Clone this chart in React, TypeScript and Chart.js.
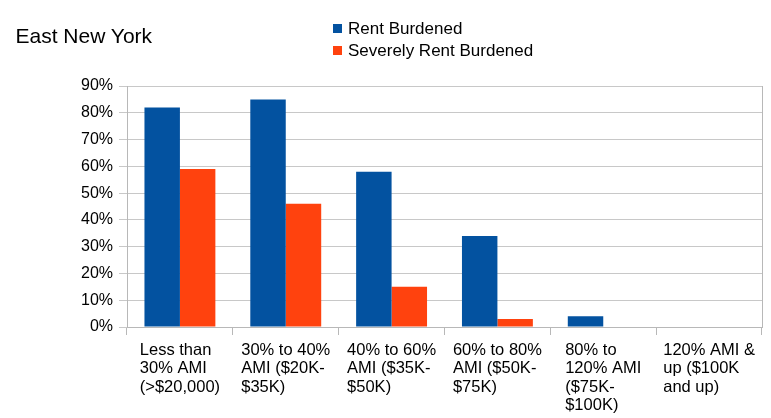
import React, { useEffect, useRef } from "react";
import { Chart, registerables } from "chart.js";

Chart.register(...registerables);

const FONT = "'Liberation Sans', Arial, Helvetica, sans-serif";

const chartTitle = "East New York";
const categories: string[][] = [
  ["Less than", "30% AMI", "(>$20,000)"],
  ["30% to 40%", "AMI ($20K-", "$35K)"],
  ["40% to 60%", "AMI ($35K-", "$50K)"],
  ["60% to 80%", "AMI ($50K-", "$75K)"],
  ["80% to", "120% AMI", "($75K-", "$100K)"],
  ["120% AMI &", "up ($100K", "and up)"],
];
const seriesNames = ["Rent Burdened", "Severely Rent Burdened"];
const rentBurdened = [82, 85, 58, 34, 4, 0];
const severelyRentBurdened = [59, 46, 15, 3, 0, 0];
const seriesColors = ["#0352a0", "#ff420e"];
const yMin = 0;
const yMax = 90;
const yStep = 10;

const xLabelPlugin = {
  id: "xLabelBlocks",
  afterDraw(chart: any) {
    const xs = chart.scales.x;
    const ctx = chart.ctx as CanvasRenderingContext2D;
    ctx.save();
    ctx.font = `16.5px ${FONT}`;
    ctx.fillStyle = "#000000";
    ctx.textAlign = "left";
    ctx.textBaseline = "alphabetic";
    const top = chart.chartArea.bottom;
    categories.forEach((lines, i) => {
      const cx = xs.getPixelForValue(i);
      const w = Math.max(...lines.map((l) => ctx.measureText(l).width));
      const x0 = cx - w / 2;
      lines.forEach((l, j) => ctx.fillText(l, x0, top + 28 + j * 18.3));
    });
    ctx.restore();
  },
};

export default function App() {
  const canvasRef = useRef<HTMLCanvasElement | null>(null);

  useEffect(() => {
    document.body.style.margin = "0";
    const canvas = canvasRef.current;
    if (!canvas) return;
    const chart = new Chart(canvas, {
      type: "bar",
      data: {
        labels: categories,
        datasets: [
          {
            label: seriesNames[0],
            data: rentBurdened,
            backgroundColor: seriesColors[0],
            borderWidth: 0,
            categoryPercentage: 0.67,
            barPercentage: 1.0,
          },
          {
            label: seriesNames[1],
            data: severelyRentBurdened,
            backgroundColor: seriesColors[1],
            borderWidth: 0,
            categoryPercentage: 0.67,
            barPercentage: 1.0,
          },
        ],
      },
      options: {
        responsive: false,
        animation: false,
        devicePixelRatio: 1,
        layout: { padding: { top: 86, right: 9, left: 0, bottom: 0 } },
        plugins: {
          legend: { display: false },
          title: { display: false },
          tooltip: { enabled: false },
        },
        scales: {
          x: {
            offset: true,
            grid: {
              offset: true,
              drawOnChartArea: false,
              drawTicks: true,
              tickLength: 8,
              color: "#b8b8b8",
            },
            border: { display: true, color: "#b8b8b8" },
            ticks: { display: false, autoSkip: false, maxRotation: 0 },
            afterFit: (scale: any) => {
              scale.height = 91;
            },
          },
          y: {
            min: yMin,
            max: yMax,
            grid: {
              color: "#c8c8c8",
              tickLength: 8,
              drawTicks: true,
            },
            border: { display: true, color: "#b8b8b8" },
            ticks: {
              stepSize: yStep,
              padding: 6,
              color: "#000000",
              font: { family: FONT, size: 16 },
              callback: (v: any) => `${v}%`,
            },
            afterFit: (scale: any) => {
              scale.width = 127;
            },
          },
          yRight: {
            position: "right",
            min: yMin,
            max: yMax,
            grid: { drawOnChartArea: false, drawTicks: false },
            border: { display: true, color: "#b8b8b8" },
            ticks: { display: false },
          },
        },
      },
      plugins: [xLabelPlugin],
    });
    return () => chart.destroy();
  }, []);

  return (
    <div style={{ position: "relative", width: 771, height: 418, background: "#ffffff" }}>
      <canvas
        ref={canvasRef}
        width={771}
        height={418}
        style={{ position: "absolute", left: 0, top: 0, width: 771, height: 418 }}
      />
      <div
        style={{
          position: "absolute",
          left: 15.5,
          top: 25,
          fontFamily: FONT,
          fontSize: 21,
          lineHeight: "21px",
          color: "#000",
          whiteSpace: "nowrap",
        }}
      >
        {chartTitle}
      </div>
      {seriesNames.map((name, i) => (
        <React.Fragment key={name}>
          <div
            style={{
              position: "absolute",
              left: 333,
              top: 23.5 + i * 22.7,
              width: 9,
              height: 9,
              background: seriesColors[i],
            }}
          />
          <div
            style={{
              position: "absolute",
              left: 348,
              top: 19.6 + i * 22.7,
              fontFamily: FONT,
              fontSize: 17,
              lineHeight: "17px",
              color: "#000",
              whiteSpace: "nowrap",
            }}
          >
            {name}
          </div>
        </React.Fragment>
      ))}
    </div>
  );
}
